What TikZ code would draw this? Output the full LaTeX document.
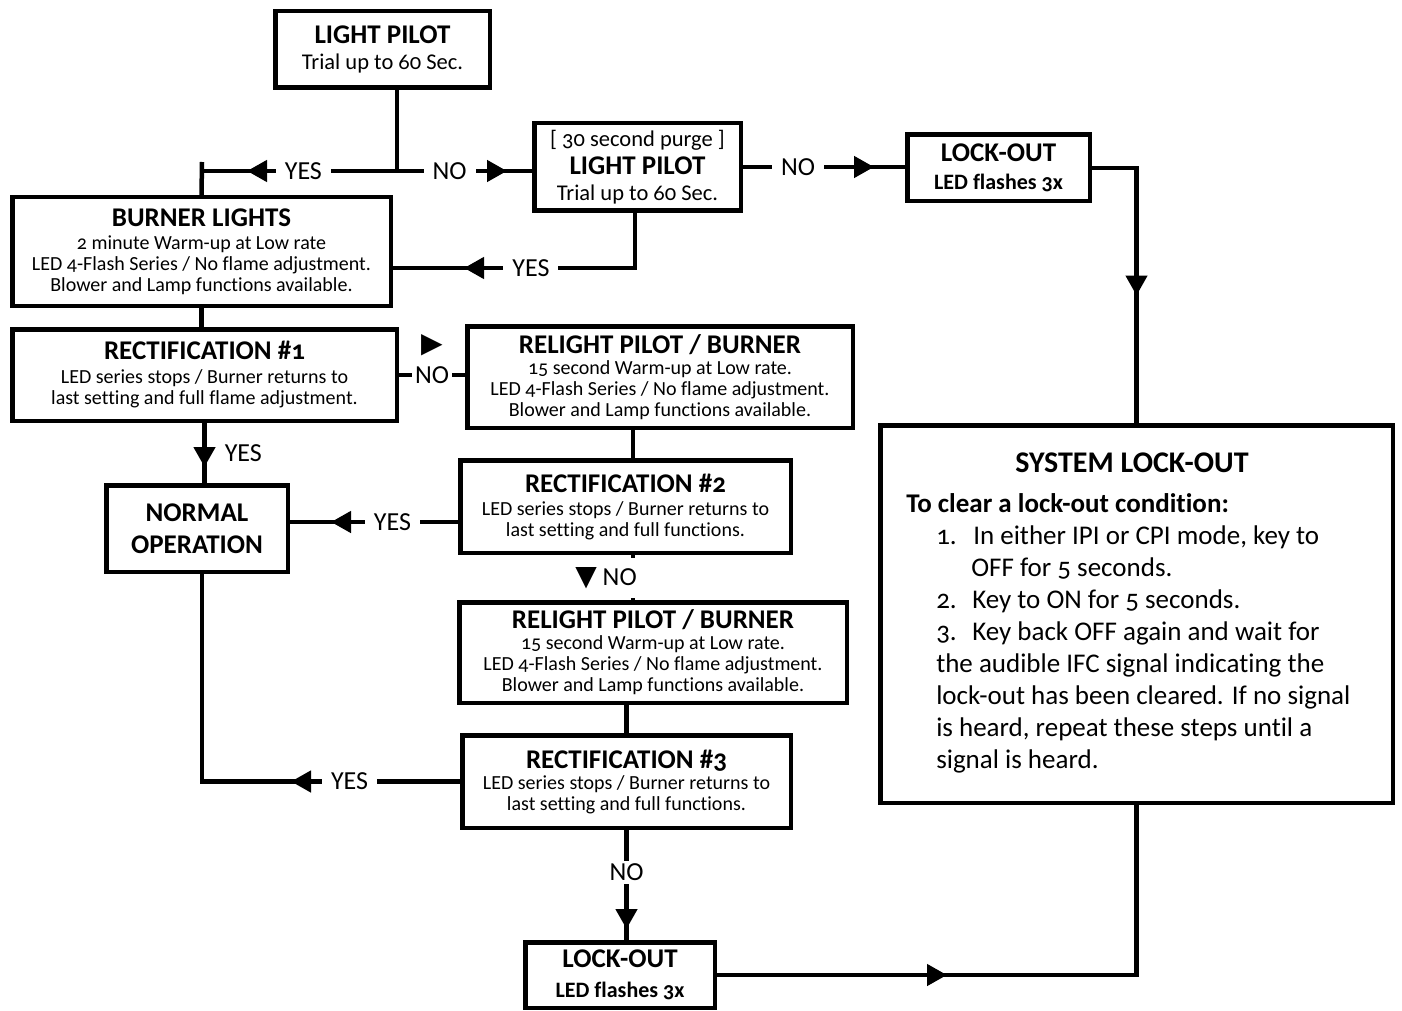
\documentclass[tikz,border=0pt]{standalone}
\usepackage{fontspec}
\setmainfont{Carlito}[Numbers=OldStyle,Ligatures=NoCommon]
\newfontfamily\symfont{DejaVu Sans}
\usetikzlibrary{arrows.meta,decorations.markings}

\newcommand{\boxhd}{\fontsize{27}{30}\selectfont\bfseries}

\begin{document}
\begin{tikzpicture}[x=1pt,y=-1pt,line width=4.5pt,
  box/.style={draw,line width=4.5pt,align=center,inner sep=0pt,font=\fontsize{20}{21}\selectfont},
  lbl/.style={fill=white,inner xsep=9pt,inner ysep=3pt,font=\fontsize{26}{26}\selectfont},
  arrat/.style={postaction={decorate},decoration={markings,
    mark=at position #1 with {\arrow{Triangle[length=20pt,width=21pt]}}}}]
  \useasboundingbox[fill=white] (0,0) rectangle (1402,1011);

  % boxes
  \node[box,minimum width=214.5pt,minimum height=76.5pt,font=\fontsize{22.5}{26}\selectfont] (lp1) at (382.5,49.5) {{\boxhd LIGHT PILOT}\\Trial up to 60 Sec.};
  \node[box,minimum width=206.5pt,minimum height=87.5pt,font=\fontsize{22.5}{26}\selectfont] (lp2) at (637.5,167) {[ 30 second purge ]\\[2pt]{\boxhd LIGHT PILOT}\\Trial up to 60 Sec.};
  \node[box,minimum width=182.5pt,minimum height=66.5pt,font=\fontsize{22}{28}\selectfont\bfseries] (lo1) at (998.5,168) {{\boxhd LOCK-OUT}\\LED flashes 3x};
  \node[box,minimum width=378.5pt,minimum height=108.5pt] (bl) at (201.5,251.5) {{\boxhd BURNER LIGHTS}\\[2pt]2 minute Warm-up at Low rate\\LED 4-Flash Series / No flame adjustment.\\Blower and Lamp functions available.};
  \node[box,minimum width=384.5pt,minimum height=91.5pt] (rc1) at (204.5,375) {{\boxhd RECTIFICATION \#1}\\[3pt]LED series stops / Burner returns to\\last setting and full flame adjustment.};
  \node[box,minimum width=385.5pt,minimum height=101.5pt] (rl1) at (660,377) {{\boxhd RELIGHT PILOT / BURNER}\\15 second Warm-up at Low rate.\\LED 4-Flash Series / No flame adjustment.\\Blower and Lamp functions available.};
  \node[box,minimum width=181.5pt,minimum height=86.5pt,font=\fontsize{27}{32}\selectfont\bfseries] (no) at (197,528.5) {NORMAL\\OPERATION};
  \node[box,minimum width=330.5pt,minimum height=92.5pt] (rc2) at (625.5,506.5) {{\boxhd RECTIFICATION \#2}\\[2pt]LED series stops / Burner returns to\\last setting and full functions.};
  \node[box,minimum width=387.5pt,minimum height=100.5pt] (rl2) at (653,652.5) {{\boxhd RELIGHT PILOT / BURNER}\\15 second Warm-up at Low rate.\\LED 4-Flash Series / No flame adjustment.\\Blower and Lamp functions available.};
  \node[box,minimum width=328.5pt,minimum height=92.5pt] (rc3) at (626.5,781.5) {{\boxhd RECTIFICATION \#3}\\LED series stops / Burner returns to\\last setting and full functions.};
  \node[box,minimum width=189.5pt,minimum height=65.5pt,font=\fontsize{22}{30}\selectfont\bfseries] (lo2) at (620,975) {{\boxhd LOCK-OUT}\\LED flashes 3x};
  \node[box,minimum width=512.5pt,minimum height=377.5pt] (sys) at (1136.5,614) {};
  \node[font=\fontsize{30}{30}\selectfont\bfseries,anchor=base,inner sep=0pt] (systtl) at (1132,472) {SYSTEM LOCK-OUT};
  \node[anchor=north west,align=left,inner sep=0pt,font=\fontsize{27}{32}\selectfont] (sysbody) at (904,491) {\textbf{To clear a lock-out condition:}\\
    \hspace*{30pt}\makebox[37pt][l]{1.}In either IPI or CPI mode, key to\\
    \hspace*{65pt}OFF for 5 seconds.\\
    \hspace*{30pt}\makebox[36pt][l]{2.}Key to ON for 5 seconds.\\
    \hspace*{30pt}\makebox[36pt][l]{3.}Key back OFF again and wait for\\
    \hspace*{30pt}the audible IFC signal indicating the\\
    \hspace*{30pt}lock-out has been cleared. If no signal\\
    \hspace*{30pt}is heard, repeat these steps until a\\
    \hspace*{30pt}signal is heard.};

  % helper points
  \coordinate (j) at (397,171);
  \coordinate (tY) at (202,162);
  \coordinate (c6) at (635,268);
  \path ([xshift=7.5pt]rc2.north) coordinate (rc2in);
  \path ([yshift=-15.5pt]rc2.west) coordinate (rc2out);

  % connectors
  \draw (lp1.south -| j) -- (j);
  \draw[arrat=150pt] (j) -- node[lbl,pos=0.48]{YES} (tY |- j);
  \draw (tY) -- (bl.north);
  \draw[arrat=110pt] (j) -- node[lbl,pos=0.39]{NO} (lp2.west |- j);
  \draw[arrat=131pt] (lp2.east) -- node[lbl,pos=0.34]{NO} (lp2.east -| lo1.west);
  \draw[arrat=172pt] (lo1.east) -| (sys.north);
  \draw[arrat=226pt] (lp2.south -| c6) -- (c6) -- node[lbl,pos=0.43]{YES} (c6 -| bl.east);
  \draw (bl.south) -- (bl.south |- rc1.north);
  \draw (rc1.east) -- node[lbl,inner xsep=3pt,label={[font=\symfont\fontsize{28}{28}\selectfont,inner sep=0pt,label distance=3pt]above:▶}]{NO} (rc1.east -| rl1.west);
  \draw[arrat=44pt] (rc1.south) -- node[anchor=west,inner sep=0pt,xshift=18pt,font=\fontsize{26}{26}\selectfont]{YES} (rc1.south |- no.north);
  \draw (rl1.south -| rc2in) -- (rc2in);
  \draw[arrat=127pt] (rc2out) -- node[lbl,pos=0.39]{YES} (rc2out -| no.east);
  \draw (rc2.south -| rc2in) -- node[lbl,inner xsep=0pt,inner ysep=9pt,xshift=-27pt,pos=0.51]{{\symfont\fontsize{28}{28}\selectfont ▼}\ NO} (rl2.north -| rc2in);
  \draw (rc3.north |- rl2.south) -- (rc3.north);
  \draw[arrat=169pt] (rc3.west) -| node[lbl,pos=0.214]{YES} (no.south -| tY);
  \draw[arrat=99pt] (rc3.south) -- node[lbl,pos=0.385]{NO} (rc3.south |- lo2.north);
  \draw[arrat=230pt] (lo2.east) -| (sys.south);
\end{tikzpicture}
\end{document}
